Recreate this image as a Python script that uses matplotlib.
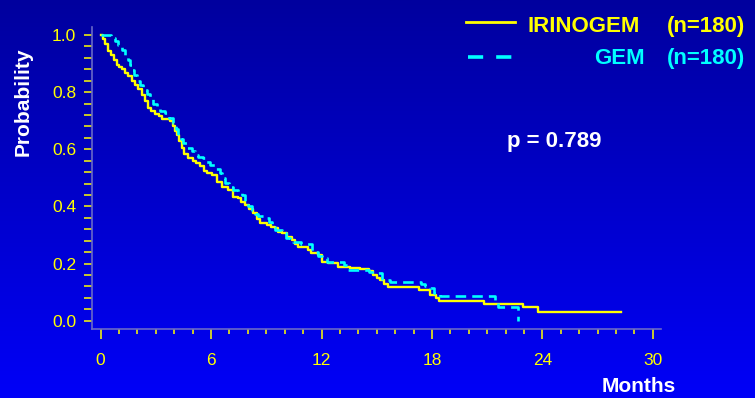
import numpy as np
import matplotlib
matplotlib.use("Agg")
import matplotlib.pyplot as plt
from matplotlib.ticker import MultipleLocator
from matplotlib.lines import Line2D

plt.rcParams['font.family'] = ['Liberation Sans', 'DejaVu Sans']

# ---- data ----
irinogem_t = [0, 0.15, 0.25, 0.4, 0.55, 0.7, 0.87, 1.0, 1.14, 1.3, 1.5, 1.7, 1.86, 2.05,
              2.23, 2.4, 2.59, 2.75, 2.95, 3.15, 3.31, 3.77, 3.95, 4.05, 4.13, 4.25, 4.4,
              4.55, 4.76, 5.0, 5.2, 5.4, 5.6, 5.76, 6.03, 6.3, 6.58, 6.93, 7.2, 7.48, 7.65,
              7.84, 8.05, 8.29, 8.5, 8.66, 9.02, 9.25, 9.47, 9.65, 9.84, 10.1, 10.38, 10.55,
              10.74, 11.28, 11.45, 11.83, 12.0, 12.37, 12.91, 13.55, 14.09, 14.6, 14.82, 15.0,
              15.18, 15.4, 15.63, 17.32, 17.9, 18.2, 18.4, 20.85, 22.97, 23.75, 28.3]
irinogem_s = [1.0, 0.985, 0.97, 0.945, 0.93, 0.912, 0.896, 0.888, 0.88, 0.868, 0.858, 0.84,
              0.826, 0.81, 0.79, 0.77, 0.745, 0.735, 0.725, 0.715, 0.707, 0.698, 0.68, 0.665,
              0.65, 0.63, 0.604, 0.585, 0.569, 0.56, 0.551, 0.54, 0.525, 0.516, 0.51, 0.487,
              0.469, 0.457, 0.434, 0.428, 0.415, 0.405, 0.39, 0.376, 0.355, 0.341, 0.335, 0.328,
              0.323, 0.312, 0.306, 0.293, 0.282, 0.27, 0.259, 0.247, 0.236, 0.23, 0.207, 0.201,
              0.189, 0.183, 0.18, 0.175, 0.16, 0.15, 0.142, 0.13, 0.117, 0.107, 0.09, 0.08,
              0.07, 0.06, 0.047, 0.031, 0.031]

gem_t = [0, 0.55, 0.78, 0.95, 1.14, 1.3, 1.5, 1.6, 1.68, 1.8, 1.95, 2.15, 2.32, 2.5, 2.68,
         2.85, 3.04, 3.25, 3.5, 3.7, 3.95, 4.1, 4.22, 4.35, 4.49, 4.7, 4.95, 5.15, 5.3, 5.58,
         5.75, 5.94, 6.2, 6.48, 6.6, 6.76, 7.0, 7.2, 7.45, 7.66, 7.84, 8.0, 8.2, 8.4, 8.57,
         9.0, 9.15, 9.29, 9.5, 9.84, 10.05, 10.29, 10.47, 10.9, 11.5, 11.8, 12.0, 12.28, 13.2,
         13.45, 14.6, 15.0, 15.27, 15.7, 17.4, 17.6, 17.9, 18.1, 18.44, 21.4, 21.6, 22.7]
gem_s = [1.0, 0.99, 0.98, 0.965, 0.949, 0.93, 0.914, 0.895, 0.879, 0.86, 0.838, 0.825, 0.809,
         0.795, 0.78, 0.76, 0.745, 0.735, 0.727, 0.71, 0.692, 0.67, 0.651, 0.635, 0.622, 0.605,
         0.593, 0.58, 0.574, 0.568, 0.555, 0.545, 0.53, 0.518, 0.5, 0.481, 0.468, 0.457, 0.447,
         0.44, 0.411, 0.4, 0.388, 0.375, 0.368, 0.36, 0.345, 0.327, 0.318, 0.306, 0.29, 0.282,
         0.277, 0.267, 0.24, 0.225, 0.218, 0.207, 0.195, 0.177, 0.172, 0.166, 0.142, 0.137,
         0.128, 0.12, 0.113, 0.096, 0.088, 0.072, 0.047, 0.0]

x_major = [0, 6, 12, 18, 24, 30]
y_major = [0.0, 0.2, 0.4, 0.6, 0.8, 1.0]
legend_names = ["IRINOGEM", "GEM"]
legend_n = ["(n=180)", "(n=180)"]
p_text = "p = 0.789"

YELLOW = "#FFFF00"
CYAN = "#00FFFF"
W, H = 755, 398

fig = plt.figure(figsize=(W / 100, H / 100), dpi=100)

# background gradient
bg = fig.add_axes([0, 0, 1, 1], zorder=-10)
grad = np.linspace(0, 1, 256).reshape(-1, 1)
top = np.array([0, 0, 0x9E]) / 255
bot = np.array([0, 0, 0xF8]) / 255
img = top[None, None, :] * (1 - grad[:, :, None]) + bot[None, None, :] * grad[:, :, None]
bg.imshow(img, aspect='auto', extent=[0, 1, 0, 1], origin='upper')
bg.set_axis_off()

def fx(px):
    return px / W

def fy(py):
    return 1 - py / H

ax = fig.add_axes([fx(92), fy(329), fx(660.7) - fx(92), fy(26.7) - fy(329)])
ax.set_facecolor('none')
ax.set_xlim(-0.47, 30.43)
ax.set_ylim(-0.029, 1.029)

ax.step(irinogem_t, irinogem_s, where='post', color=YELLOW, lw=1.7, zorder=3)
ax.step(gem_t, gem_s, where='post', color=CYAN, lw=1.9, dashes=(4, 2.3), zorder=4)

for side in ['top', 'right']:
    ax.spines[side].set_visible(False)
for side in ['left', 'bottom']:
    ax.spines[side].set_color('#6868C8')
    ax.spines[side].set_linewidth(1.2)

ax.xaxis.set_major_locator(plt.FixedLocator(x_major))
ax.xaxis.set_minor_locator(MultipleLocator(1))
ax.yaxis.set_major_locator(plt.FixedLocator(y_major))
ax.yaxis.set_minor_locator(MultipleLocator(0.04))
ax.set_xticklabels([str(v) for v in x_major])
ax.set_yticklabels([f"{v:.1f}" for v in y_major])

ax.tick_params(axis='x', which='major', length=7, width=1.1, color=YELLOW,
               labelcolor=YELLOW, labelsize=12.5, pad=10)
ax.tick_params(axis='x', which='minor', length=3.4, width=1.1, color=YELLOW)
ax.tick_params(axis='y', which='both', length=5.5, width=1.1, color=YELLOW,
               labelcolor=YELLOW, labelsize=12.5, pad=6)

# axis titles
fig.text(fx(23), fy(102), "Probability", rotation=90, color='white', fontsize=15,
         fontweight='bold', ha='center', va='center')
fig.text(fx(639), fy(387), "Months", color='white', fontsize=15,
         fontweight='bold', ha='center', va='center')

# legend
fig.add_artist(Line2D([fx(465.7), fx(515)], [fy(22.3), fy(22.3)], color=YELLOW, lw=2.0))
fig.add_artist(Line2D([fx(468), fx(518)], [fy(57), fy(57)], color=CYAN, lw=2.6,
                      dashes=(4.2, 3.6)))
fig.text(fx(527.7), fy(31.7), legend_names[0], color=YELLOW, fontsize=16,
         fontweight='bold', ha='left', va='baseline')
fig.text(fx(745), fy(31.7), legend_n[0], color=YELLOW, fontsize=16,
         fontweight='bold', ha='right', va='baseline')
fig.text(fx(645), fy(64.3), legend_names[1], color=CYAN, fontsize=16,
         fontweight='bold', ha='right', va='baseline')
fig.text(fx(745), fy(64.3), legend_n[1], color=CYAN, fontsize=16,
         fontweight='bold', ha='right', va='baseline')

fig.text(fx(506.7), fy(146.7), p_text, color='white', fontsize=16,
         fontweight='bold', ha='left', va='baseline')

fig.savefig("out.png", dpi=100)
